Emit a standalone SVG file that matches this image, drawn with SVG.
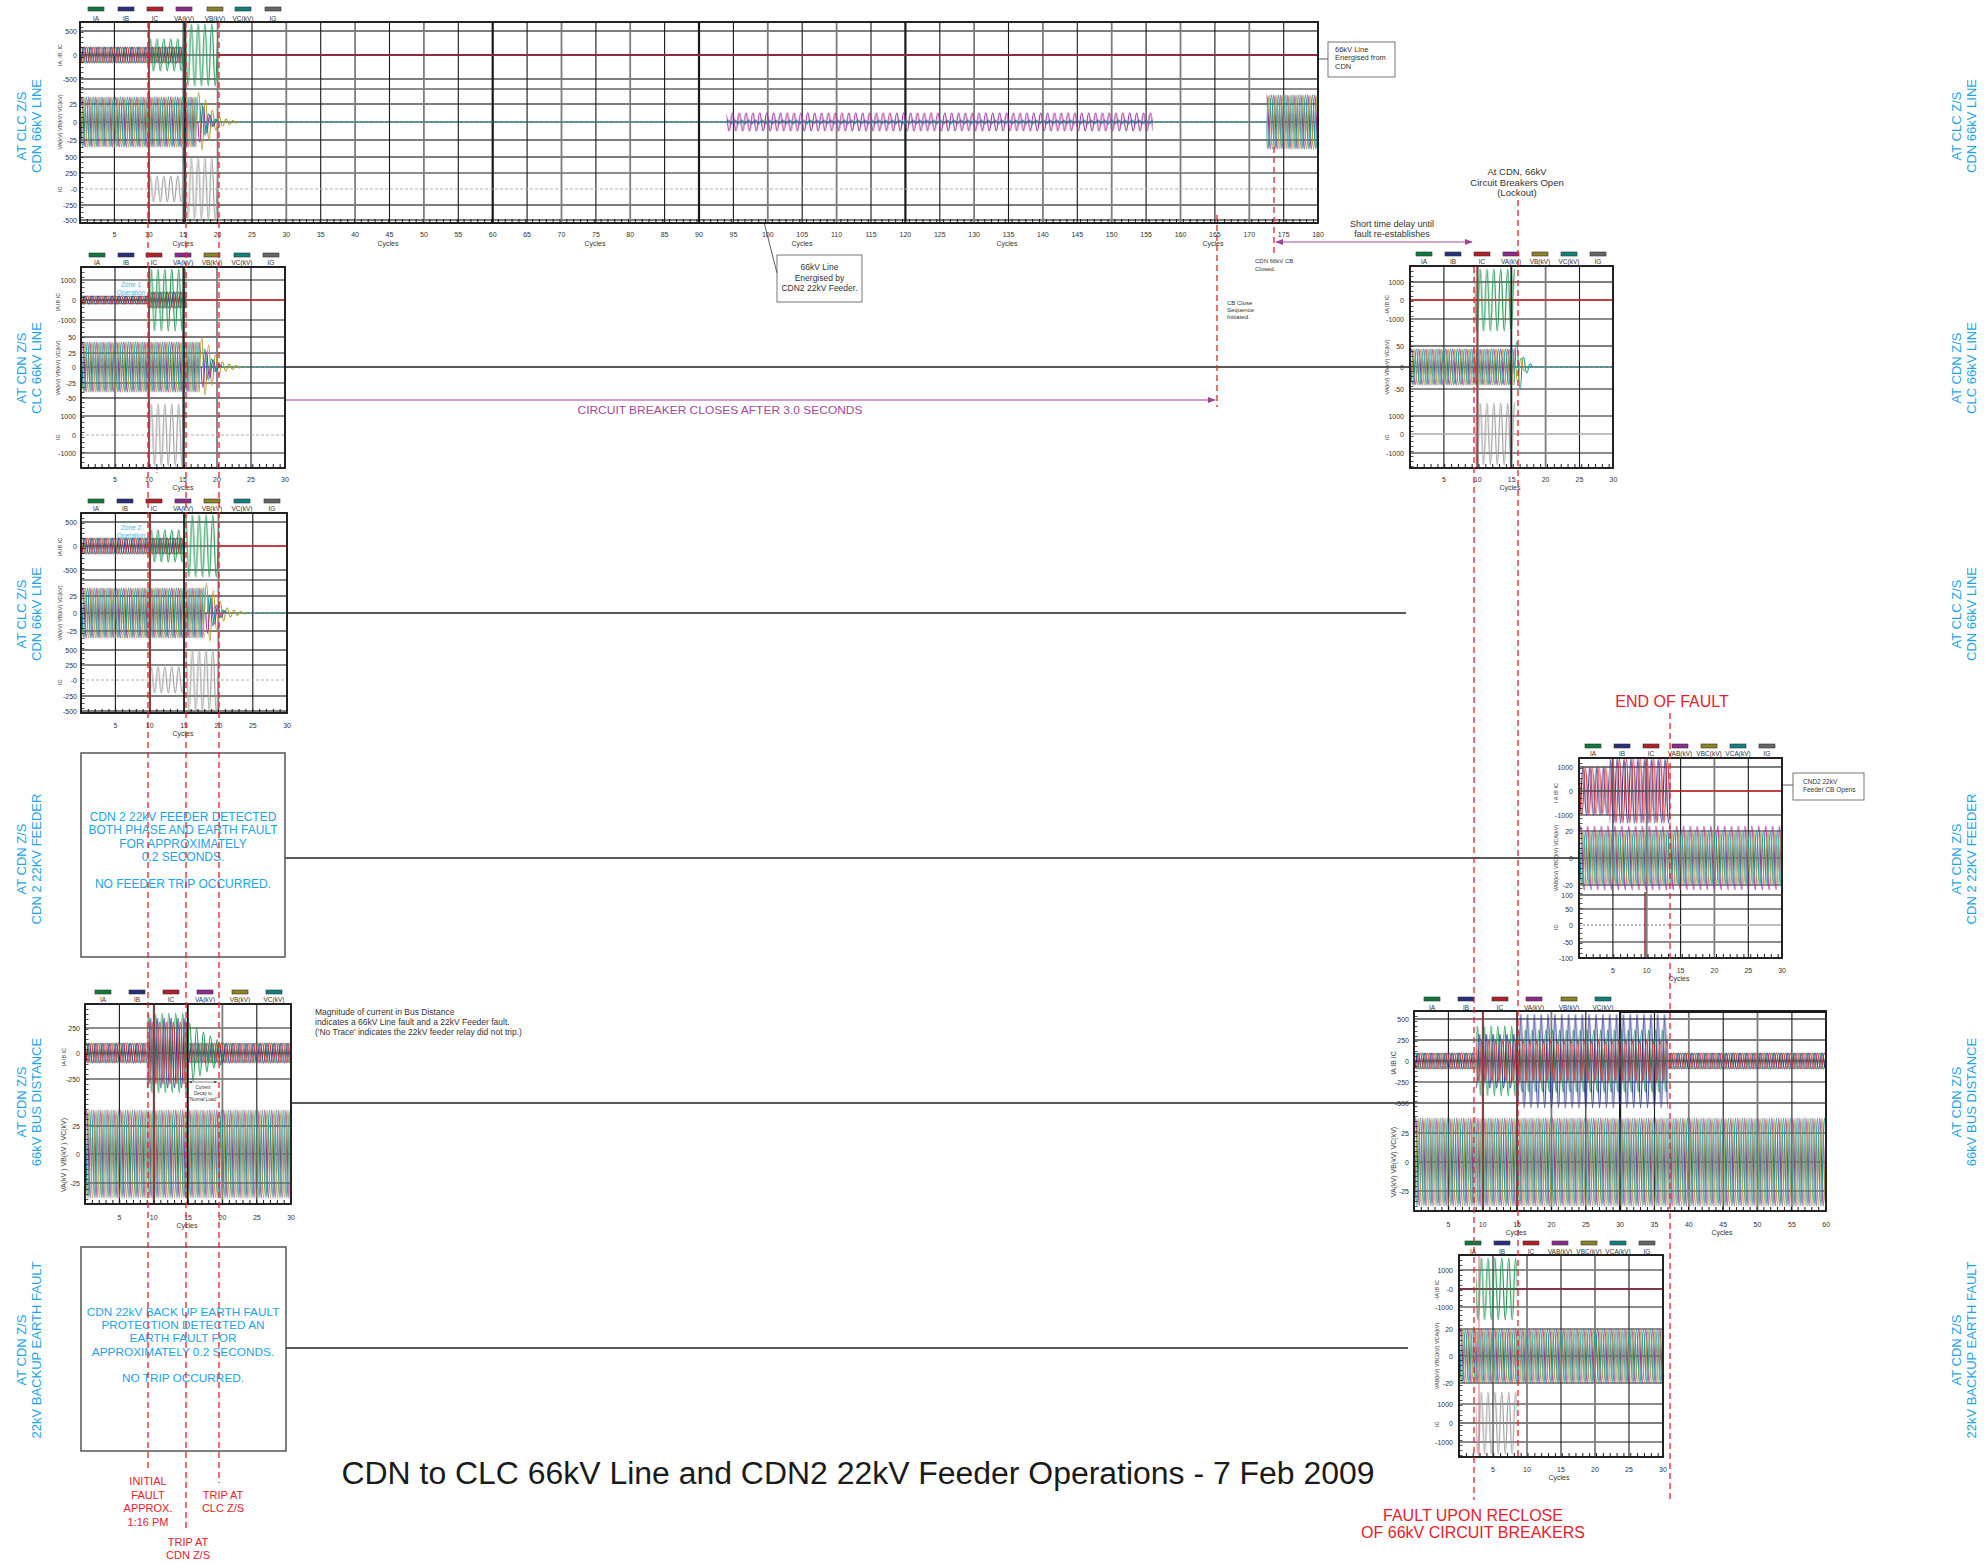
<svg xmlns="http://www.w3.org/2000/svg" width="1987" height="1563" viewBox="0 0 1987 1563">
<style>
text{font-family:"Liberation Sans",Arial,sans-serif}
.fr{fill:#fff;stroke:#1a1a1a;stroke-width:1.6}
.fo{fill:none;stroke:#1a1a1a;stroke-width:1.6}
.hk{stroke:#1a1a1a;stroke-width:1.1;fill:none}
.hg{stroke:#7d7d7d;stroke-width:1.8;fill:none}
.vk{stroke:#1a1a1a;stroke-width:1.1;fill:none}
.vg{stroke:#7d7d7d;stroke-width:1.8;fill:none}
.vb{stroke:#1a1a1a;stroke-width:2.2;fill:none}
.z0{stroke:#b0b0b0;stroke-width:1;stroke-dasharray:3 2;fill:none}
.zg{stroke:#aaaaaa;stroke-width:1.4;fill:none}
.zt{stroke:#13999a;stroke-width:1.2;stroke-dasharray:3 2;fill:none}
.tk{stroke:#1a1a1a;stroke-width:4;stroke-dasharray:1 5.85;fill:none}
.tl{stroke:#1a1a1a;stroke-width:3;stroke-dasharray:.8 4.2;fill:none}
.yl{font-size:7px;fill:#333;text-anchor:end}
.xl{font-size:7px;fill:#333;text-anchor:middle}
.lg{font-size:6.5px;fill:#333;text-anchor:middle}
.yt{font-size:5.5px;fill:#444;text-anchor:middle}
.yt2{font-size:7px;fill:#444;text-anchor:middle}
.sw{stroke:#333;stroke-width:.6}
.ev{stroke:#e8202a;stroke-width:1.3;stroke-dasharray:6 4;fill:none}
.cn{stroke:#222;stroke-width:1.5;fill:none}
.side{font-size:13px;fill:#1ca3e8;text-anchor:middle}
.note{font-size:12px;fill:#1ca3e8;text-anchor:middle}
.red{fill:#e8202a;text-anchor:middle}
.ann{fill:#333}
.zone{font-size:6.5px;fill:#48b4f0;text-anchor:middle}
.w{fill:none;stroke-width:1.15}
.cI{fill:#0f7a3c}.cB{fill:#27307e}.cR{fill:#b4202a}.cM{fill:#8e2a8c}.cO{fill:#8e8226}.cT{fill:#12807f}.cG{fill:#666}
</style>
<defs>
<path id="a2" class="w" d="M-6.85 0c1.233-2.66 2.192-2.66 3.425 0s2.192 2.66 3.425 0s2.192-2.66 3.425 0s2.192 2.66 3.425 0s2.192-2.66 3.425 0s2.192 2.66 3.425 0"/>
<path id="a4" class="w" d="M-6.85 0c1.233-5.32 2.192-5.32 3.425 0s2.192 5.32 3.425 0s2.192-5.32 3.425 0s2.192 5.32 3.425 0s2.192-5.32 3.425 0s2.192 5.32 3.425 0"/>
<path id="a8" class="w" d="M-6.85 0c1.233-10.64 2.192-10.64 3.425 0s2.192 10.64 3.425 0s2.192-10.64 3.425 0s2.192 10.64 3.425 0s2.192-10.64 3.425 0s2.192 10.64 3.425 0"/>
<path id="a9" class="w" d="M-6.85 0c1.233-11.97 2.192-11.97 3.425 0s2.192 11.97 3.425 0s2.192-11.97 3.425 0s2.192 11.97 3.425 0s2.192-11.97 3.425 0s2.192 11.97 3.425 0"/>
<path id="a10" class="w" d="M-6.85 0c1.233-13.3 2.192-13.3 3.425 0s2.192 13.3 3.425 0s2.192-13.3 3.425 0s2.192 13.3 3.425 0s2.192-13.3 3.425 0s2.192 13.3 3.425 0"/>
<path id="a13" class="w" d="M-6.85 0c1.233-17.29 2.192-17.29 3.425 0s2.192 17.29 3.425 0s2.192-17.29 3.425 0s2.192 17.29 3.425 0s2.192-17.29 3.425 0s2.192 17.29 3.425 0"/>
<path id="a16" class="w" d="M-6.85 0c1.233-21.28 2.192-21.28 3.425 0s2.192 21.28 3.425 0s2.192-21.28 3.425 0s2.192 21.28 3.425 0s2.192-21.28 3.425 0s2.192 21.28 3.425 0"/>
<path id="a18" class="w" d="M-6.85 0c1.233-23.94 2.192-23.94 3.425 0s2.192 23.94 3.425 0s2.192-23.94 3.425 0s2.192 23.94 3.425 0s2.192-23.94 3.425 0s2.192 23.94 3.425 0"/>
<path id="a20" class="w" d="M-6.85 0c1.233-26.6 2.192-26.6 3.425 0s2.192 26.6 3.425 0s2.192-26.6 3.425 0s2.192 26.6 3.425 0s2.192-26.6 3.425 0s2.192 26.6 3.425 0"/>
<path id="a24" class="w" d="M-6.85 0c1.233-31.92 2.192-31.92 3.425 0s2.192 31.92 3.425 0s2.192-31.92 3.425 0s2.192 31.92 3.425 0s2.192-31.92 3.425 0s2.192 31.92 3.425 0"/>
<path id="a25" class="w" d="M-6.85 0c1.233-33.25 2.192-33.25 3.425 0s2.192 33.25 3.425 0s2.192-33.25 3.425 0s2.192 33.25 3.425 0s2.192-33.25 3.425 0s2.192 33.25 3.425 0"/>
<path id="a27" class="w" d="M-6.85 0c1.233-35.91 2.192-35.91 3.425 0s2.192 35.91 3.425 0s2.192-35.91 3.425 0s2.192 35.91 3.425 0s2.192-35.91 3.425 0s2.192 35.91 3.425 0"/>
<path id="a31" class="w" d="M-6.85 0c1.233-41.23 2.192-41.23 3.425 0s2.192 41.23 3.425 0s2.192-41.23 3.425 0s2.192 41.23 3.425 0s2.192-41.23 3.425 0s2.192 41.23 3.425 0"/>
<path id="a32" class="w" d="M-6.85 0c1.233-42.56 2.192-42.56 3.425 0s2.192 42.56 3.425 0s2.192-42.56 3.425 0s2.192 42.56 3.425 0s2.192-42.56 3.425 0s2.192 42.56 3.425 0"/>
<path id="a35" class="w" d="M-6.85 0c1.233-46.55 2.192-46.55 3.425 0s2.192 46.55 3.425 0s2.192-46.55 3.425 0s2.192 46.55 3.425 0s2.192-46.55 3.425 0s2.192 46.55 3.425 0"/>
<path id="a40" class="w" d="M-6.85 0c1.233-53.2 2.192-53.2 3.425 0s2.192 53.2 3.425 0s2.192-53.2 3.425 0s2.192 53.2 3.425 0s2.192-53.2 3.425 0s2.192 53.2 3.425 0"/>
<path id="a44" class="w" d="M-6.85 0c1.233-58.52 2.192-58.52 3.425 0s2.192 58.52 3.425 0s2.192-58.52 3.425 0s2.192 58.52 3.425 0s2.192-58.52 3.425 0s2.192 58.52 3.425 0"/>
<path id="a47" class="w" d="M-6.85 0c1.233-62.51 2.192-62.51 3.425 0s2.192 62.51 3.425 0s2.192-62.51 3.425 0s2.192 62.51 3.425 0s2.192-62.51 3.425 0s2.192 62.51 3.425 0"/>

<pattern id="v18" patternUnits="userSpaceOnUse" y="-20" width="6.85" height="40"><use href="#a18" y="20" stroke="#a02c9c"/><use href="#a18" x="2.283" y="20" stroke="#ac9a2c"/><use href="#a18" x="4.567" y="20" stroke="#13999a"/></pattern>
<pattern id="v25" patternUnits="userSpaceOnUse" y="-27" width="6.85" height="54"><use href="#a25" y="27" stroke="#a02c9c"/><use href="#a25" x="2.283" y="27" stroke="#ac9a2c"/><use href="#a25" x="4.567" y="27" stroke="#13999a"/></pattern>
<pattern id="v27" patternUnits="userSpaceOnUse" y="-29" width="6.85" height="58"><use href="#a27" y="29" stroke="#a02c9c"/><use href="#a27" x="2.283" y="29" stroke="#ac9a2c"/><use href="#a27" x="4.567" y="29" stroke="#13999a"/></pattern>
<pattern id="v32" patternUnits="userSpaceOnUse" y="-34" width="6.85" height="68"><use href="#a32" y="34" stroke="#a02c9c"/><use href="#a27" x="2.283" y="34" stroke="#ac9a2c"/><use href="#a27" x="4.567" y="34" stroke="#13999a"/></pattern>
<pattern id="v44" patternUnits="userSpaceOnUse" y="-46" width="6.85" height="92"><use href="#a44" y="46" stroke="#a02c9c"/><use href="#a44" x="2.283" y="46" stroke="#ac9a2c"/><use href="#a44" x="4.567" y="46" stroke="#13999a"/></pattern>
<pattern id="i4" patternUnits="userSpaceOnUse" y="-6" width="6.85" height="12"><use href="#a4" y="6" stroke="#1b9650"/><use href="#a4" x="2.283" y="6" stroke="#2c3596"/><use href="#a4" x="4.567" y="6" stroke="#d42a2a"/></pattern>
<pattern id="i8" patternUnits="userSpaceOnUse" y="-10" width="6.85" height="20"><use href="#a8" y="10" stroke="#1b9650"/><use href="#a8" x="2.283" y="10" stroke="#2c3596"/><use href="#a8" x="4.567" y="10" stroke="#d42a2a"/></pattern>
<pattern id="i10" patternUnits="userSpaceOnUse" y="-12" width="6.85" height="24"><use href="#a10" y="12" stroke="#1b9650"/><use href="#a10" x="2.283" y="12" stroke="#2c3596"/><use href="#a10" x="4.567" y="12" stroke="#d42a2a"/></pattern>
<pattern id="g16" patternUnits="userSpaceOnUse" y="-18" width="6.85" height="36"><use href="#a16" y="18" stroke="#1b9650"/></pattern>
<pattern id="g31" patternUnits="userSpaceOnUse" y="-33" width="6.85" height="66"><use href="#a31" y="33" stroke="#1b9650"/></pattern>
<pattern id="k13" patternUnits="userSpaceOnUse" y="-15" width="6.85" height="30"><use href="#a13" y="15" stroke="#9c9c9c"/></pattern>
<pattern id="k31" patternUnits="userSpaceOnUse" y="-33" width="6.85" height="66"><use href="#a31" y="33" stroke="#9c9c9c"/></pattern>
<pattern id="m9" patternUnits="userSpaceOnUse" y="-11" width="6.85" height="22"><use href="#a2" x="2.283" y="11" stroke="#13999a"/><use href="#a9" y="11" stroke="#a02c9c"/></pattern>
<pattern id="e40" patternUnits="userSpaceOnUse" y="-42" width="6.85" height="84"><use href="#a40" y="42" stroke="#1b9650"/><use href="#a35" x="2.283" y="42" stroke="#2c3596"/><use href="#a31" x="4.567" y="42" stroke="#d42a2a"/></pattern>
<pattern id="i1" patternUnits="userSpaceOnUse" y="-37" width="6.85" height="74"><use href="#a35" y="37" stroke="#1b9650"/><use href="#a27" x="2.283" y="37" stroke="#2c3596"/><use href="#a20" x="4.567" y="37" stroke="#d42a2a"/></pattern>
<pattern id="i2" patternUnits="userSpaceOnUse" y="-49" width="6.85" height="98"><use href="#a31" y="49" stroke="#1b9650"/><use href="#a47" x="2.283" y="49" stroke="#2c3596"/><use href="#a20" x="4.567" y="49" stroke="#d42a2a"/></pattern>
<pattern id="h24" patternUnits="userSpaceOnUse" y="-26" width="6.85" height="52"><use href="#a24" x="2.283" y="26" stroke="#2c3596"/><use href="#a24" x="4.567" y="26" stroke="#d42a2a"/></pattern>
<pattern id="h32" patternUnits="userSpaceOnUse" y="-34" width="6.85" height="68"><use href="#a32" x="2.283" y="34" stroke="#2c3596"/><use href="#a32" x="4.567" y="34" stroke="#d42a2a"/></pattern>

<g id="dec" fill="none" stroke-width="1.1">
<path stroke="#ac9a2c" d="M0 0q1.72-60 3.44 0q1.72 56 3.44 0q1.72-44 3.44 0q1.72 36 3.44 0q1.72-24 3.44 0q1.72 16 3.44 0q1.72-10 3.44 0q1.72 8 3.44 0q1.72-6 3.44 0q1.72 5 3.44 0q1.72-3 3.44 0q1.72 2 3.44 0"/>
<path stroke="#a02c9c" d="M1.1 0q1.72 40 3.44 0q1.72-30 3.44 0q1.72 22 3.44 0q1.72-14 3.44 0q1.72 8 3.44 0q1.72-4 3.44 0"/>
<path stroke="#13999a" d="M3.1 0q1.72-36 3.44 0q1.72 26 3.44 0q1.72-16 3.44 0q1.72 10 3.44 0q1.72-6 3.44 0"/>
</g>

<marker id="mkM" viewBox="0 0 10 10" refX="9" refY="5" markerWidth="8" markerHeight="8" markerUnits="userSpaceOnUse" orient="auto-start-reverse"><path d="M0 1L10 5L0 9z" fill="#a0449a"/></marker>
<marker id="mkK" viewBox="0 0 10 10" refX="9" refY="5" markerWidth="6" markerHeight="6" markerUnits="userSpaceOnUse" orient="auto-start-reverse"><path d="M0 1L10 5L0 9z" fill="#333"/></marker>
<marker id="mkS" viewBox="0 0 10 10" refX="9" refY="5" markerWidth="3" markerHeight="3" markerUnits="userSpaceOnUse" orient="auto-start-reverse"><path d="M0 1L10 5L0 9z" fill="#333"/></marker>
</defs>

<rect width="1987" height="1563" fill="#fff"/>

<g id="side-labels">
<text class="side" transform="translate(26 126) rotate(-90)">AT CLC Z/S</text>
<text class="side" transform="translate(41 126) rotate(-90)">CDN 66kV LINE</text>
<text class="side" transform="translate(26 368) rotate(-90)">AT CDN Z/S</text>
<text class="side" transform="translate(41 368) rotate(-90)">CLC 66kV LINE</text>
<text class="side" transform="translate(26 614) rotate(-90)">AT CLC Z/S</text>
<text class="side" transform="translate(41 614) rotate(-90)">CDN 66kV LINE</text>
<text class="side" transform="translate(26 859) rotate(-90)">AT CDN Z/S</text>
<text class="side" transform="translate(41 859) rotate(-90)">CDN 2 22KV FEEDER</text>
<text class="side" transform="translate(26 1102) rotate(-90)">AT CDN Z/S</text>
<text class="side" transform="translate(41 1102) rotate(-90)">66kV BUS DISTANCE</text>
<text class="side" transform="translate(26 1350) rotate(-90)">AT CDN Z/S</text>
<text class="side" transform="translate(41 1350) rotate(-90)">22kV BACKUP EARTH FAULT</text>
<text class="side" transform="translate(1961 126) rotate(-90)">AT CLC Z/S</text>
<text class="side" transform="translate(1976 126) rotate(-90)">CDN 66kV LINE</text>
<text class="side" transform="translate(1961 368) rotate(-90)">AT CDN Z/S</text>
<text class="side" transform="translate(1976 368) rotate(-90)">CLC 66kV LINE</text>
<text class="side" transform="translate(1961 614) rotate(-90)">AT CLC Z/S</text>
<text class="side" transform="translate(1976 614) rotate(-90)">CDN 66kV LINE</text>
<text class="side" transform="translate(1961 859) rotate(-90)">AT CDN Z/S</text>
<text class="side" transform="translate(1976 859) rotate(-90)">CDN 2 22KV FEEDER</text>
<text class="side" transform="translate(1961 1102) rotate(-90)">AT CDN Z/S</text>
<text class="side" transform="translate(1976 1102) rotate(-90)">66kV BUS DISTANCE</text>
<text class="side" transform="translate(1961 1350) rotate(-90)">AT CDN Z/S</text>
<text class="side" transform="translate(1976 1350) rotate(-90)">22kV BACKUP EARTH FAULT</text>
</g>

<g id="connectors">
<path class="cn" d="M285 367H1410"/>
<path class="cn" d="M287 613H1406"/>
<path class="cn" d="M285 858H1579"/>
<path class="cn" d="M291 1103H1415"/>
<path class="cn" d="M286 1348H1408"/>
<path d="M157 400H1215" stroke="#d99ad0" stroke-width="2.2" fill="none" marker-end="url(#mkM)"/>
<path d="M157 400V473" stroke="#a0449a" stroke-width="1" stroke-dasharray="2 2" fill="none"/>
<path d="M1276 242H1472" stroke="#b04aa0" stroke-width="1.2" fill="none" marker-start="url(#mkM)" marker-end="url(#mkM)"/>
<path d="M1328 59H1292L1273 92" stroke="#333" stroke-width=".8" fill="none"/>
<path d="M777 273L742 136" stroke="#333" stroke-width=".8" fill="none" marker-end="url(#mkK)"/>
<path d="M1793 785H1673" stroke="#333" stroke-width=".8" fill="none" marker-end="url(#mkK)"/>
</g>

<g id="plot-clc-cdn-66kv-line-top">
<rect class="fr" x="80" y="22" width="1238" height="201"/>
<path class="hg" d="M80 31H1318M80 79H1318M80 104H1318M80 140H1318M80 157H1318M80 205H1318M80 220H1318"/>
<path class="hk" d="M80 55H1318M80 89H1318M80 122H1318M80 173H1318"/>
<path class="vk" d="M114.4 22V223M183.2 22V223M252 22V223M320.7 22V223M389.5 22V223M458.3 22V223M527.1 22V223M595.9 22V223M664.6 22V223M733.4 22V223M802.2 22V223M871 22V223M939.8 22V223M1008.5 22V223M1077.3 22V223M1146.1 22V223M1214.9 22V223M1283.7 22V223"/>
<path class="vg" d="M148.8 22V223M217.6 22V223M286.3 22V223M355.1 22V223M423.9 22V223M561.5 22V223M630.2 22V223M767.8 22V223M836.6 22V223M974.1 22V223M1042.9 22V223M1111.7 22V223M1180.5 22V223M1249.3 22V223"/>
<path class="vb" d="M492.7 22V223M699 22V223M905.4 22V223"/>
<g transform="translate(80 55)">
<rect x="0" y="-10" width="103.2" height="20" fill="url(#i8)"/>
<rect x="68.8" y="-18" width="34.4" height="36" fill="url(#g16)"/>
<rect x="103.2" y="-33" width="34.4" height="66" fill="url(#g31)"/>
<path d="M137.6 0H1238" stroke="#8c2c3c" stroke-width="1.8"/>
</g>
<g transform="translate(80 122)">
<path class="zt" d="M0 0H1238"/>
<rect x="0" y="-27" width="116.9" height="54" fill="url(#v25)"/>
<use href="#dec" x="116.9"/>
<rect x="646.5" y="-11" width="426.4" height="22" fill="url(#m9)"/>
<rect x="1186.5" y="-29" width="51.5" height="58" fill="url(#v27)"/>
</g>
<g transform="translate(80 189)">
<path class="z0" d="M0 0H1238"/>
<rect x="68.8" y="-15" width="34.4" height="30" fill="url(#k13)"/>
<rect x="103.2" y="-33" width="34.4" height="66" fill="url(#k31)"/>
</g>
<path d="M149 22V223" stroke="#8a4040" stroke-width="1.6"/>
<path d="M185 22V223" stroke="#111" stroke-width="1.6"/>
<path class="tk" d="M80 221H1318"/>
<path class="tl" d="M82 22V223"/>
<rect class="fo" x="80" y="22" width="1238" height="201"/>
<g class="yl">
<text x="77" y="33.5">500</text><text x="77" y="57.5">0</text><text x="77" y="81.5">-500</text>
<text x="77" y="106.5">25</text><text x="77" y="124.5">0</text><text x="77" y="142.5">-25</text>
<text x="77" y="159.5">500</text><text x="77" y="175.5">250</text><text x="77" y="191.5">-0</text><text x="77" y="207.5">-250</text><text x="77" y="222.5">-500</text>
</g>
<g class="xl">
<text x="114.4" y="236.5">5</text><text x="148.8" y="236.5">10</text><text x="183.2" y="236.5">15</text><text x="217.6" y="236.5">20</text><text x="252" y="236.5">25</text><text x="286.3" y="236.5">30</text>
<text x="320.7" y="236.5">35</text><text x="355.1" y="236.5">40</text><text x="389.5" y="236.5">45</text><text x="423.9" y="236.5">50</text><text x="458.3" y="236.5">55</text><text x="492.7" y="236.5">60</text>
<text x="527.1" y="236.5">65</text><text x="561.5" y="236.5">70</text><text x="595.9" y="236.5">75</text><text x="630.2" y="236.5">80</text><text x="664.6" y="236.5">85</text><text x="699" y="236.5">90</text>
<text x="733.4" y="236.5">95</text><text x="767.8" y="236.5">100</text><text x="802.2" y="236.5">105</text><text x="836.6" y="236.5">110</text><text x="871" y="236.5">115</text><text x="905.4" y="236.5">120</text>
<text x="939.8" y="236.5">125</text><text x="974.1" y="236.5">130</text><text x="1008.5" y="236.5">135</text><text x="1042.9" y="236.5">140</text><text x="1077.3" y="236.5">145</text><text x="1111.7" y="236.5">150</text>
<text x="1146.1" y="236.5">155</text><text x="1180.5" y="236.5">160</text><text x="1214.9" y="236.5">165</text><text x="1249.3" y="236.5">170</text><text x="1283.7" y="236.5">175</text><text x="1318" y="236.5">180</text>
<text x="183" y="245.5">Cycles</text><text x="388" y="245.5">Cycles</text><text x="595" y="245.5">Cycles</text><text x="802" y="245.5">Cycles</text><text x="1007" y="245.5">Cycles</text><text x="1213" y="245.5">Cycles</text>
</g>
<text class="yt" transform="translate(62 55) rotate(-90)">IA, IB, IC</text>
<text class="yt" transform="translate(62 122) rotate(-90)">VA(kV) VB(kV) VC(kV)</text>
<text class="yt" transform="translate(62 189) rotate(-90)">IG</text>
<g>
<rect class="sw cI" x="88" y="7" width="16" height="4"/><rect class="sw cB" x="118" y="7" width="16" height="4"/><rect class="sw cR" x="147" y="7" width="16" height="4"/><rect class="sw cM" x="176" y="7" width="16" height="4"/><rect class="sw cO" x="207" y="7" width="16" height="4"/><rect class="sw cT" x="235" y="7" width="16" height="4"/><rect class="sw cG" x="265" y="7" width="16" height="4"/>
<g class="lg"><text x="96" y="20.5">IA</text><text x="126" y="20.5">IB</text><text x="155" y="20.5">IC</text><text x="184" y="20.5">VA(kV)</text><text x="215" y="20.5">VB(kV)</text><text x="243" y="20.5">VC(kV)</text><text x="273" y="20.5">IG</text></g>
</g>
</g>

<g id="plot-cdn-clc-66kv-line">
<rect class="fr" x="81" y="267" width="204" height="201"/>
<path class="hk" d="M81 280H285M81 300H285M81 320H285M81 353H285M81 367H285M81 383H285M81 416H285M81 453H285"/>
<path class="hg" d="M81 337H285M81 398H285"/>
<path class="vk" d="M115 267V468M183 267V468M251 267V468"/>
<path class="vg" d="M149 267V468M217 267V468"/>
<g transform="translate(81 300)">
<rect x="0" y="-6" width="68" height="12" fill="url(#i4)"/>
<rect x="68" y="-10" width="37.4" height="20" fill="url(#i8)"/>
<rect x="68" y="-33" width="37.4" height="66" fill="url(#g31)"/>
<path d="M105.4 0H204" stroke="#d42a2a" stroke-width="1.6"/>
</g>
<g transform="translate(81 367)">
<path class="zt" d="M0 0H204"/>
<rect x="0" y="-27" width="119" height="54" fill="url(#v25)"/>
<use href="#dec" x="119"/>
</g>
<g transform="translate(81 435)">
<path class="z0" d="M0 0H204"/>
<rect x="68" y="-33" width="37.4" height="66" fill="url(#k31)"/>
</g>
<path d="M149 267V468" stroke="#8a4040" stroke-width="1.4"/>
<path d="M184 267V468" stroke="#111" stroke-width="1.4"/>
<path class="tk" d="M81 466H285"/>
<path class="tl" d="M83 267V468"/>
<rect class="fo" x="81" y="267" width="204" height="201"/>
<g class="yl">
<text x="76" y="282.5">1000</text><text x="76" y="302.5">0</text><text x="76" y="322.5">-1000</text>
<text x="76" y="339.5">50</text><text x="76" y="355.5">25</text><text x="76" y="369.5">0</text><text x="76" y="385.5">-25</text><text x="76" y="400.5">-50</text>
<text x="76" y="418.5">1000</text><text x="76" y="437.5">0</text><text x="76" y="455.5">-1000</text>
</g>
<g class="xl">
<text x="115" y="481.5">5</text><text x="149" y="481.5">10</text><text x="183" y="481.5">15</text><text x="217" y="481.5">20</text><text x="251" y="481.5">25</text><text x="285" y="481.5">30</text>
<text x="183" y="489.5">Cycles</text>
</g>
<text class="yt" transform="translate(60 302) rotate(-90)">IA IB IC</text>
<text class="yt" transform="translate(60 368) rotate(-90)">VA(kV) VB(kV) VC(kV)</text>
<text class="yt" transform="translate(60 437) rotate(-90)">IG</text>
<rect class="sw cI" x="89" y="253" width="16" height="4"/><rect class="sw cB" x="118" y="253" width="16" height="4"/><rect class="sw cR" x="146" y="253" width="16" height="4"/><rect class="sw cM" x="175" y="253" width="16" height="4"/><rect class="sw cO" x="204" y="253" width="16" height="4"/><rect class="sw cT" x="234" y="253" width="16" height="4"/><rect class="sw cG" x="263" y="253" width="16" height="4"/>
<g class="lg"><text x="97" y="264.5">IA</text><text x="126" y="264.5">IB</text><text x="154" y="264.5">IC</text><text x="183" y="264.5">VA(kV)</text><text x="212" y="264.5">VB(kV)</text><text x="242" y="264.5">VC(kV)</text><text x="271" y="264.5">IG</text></g>
<text class="zone" x="131" y="286.5">Zone 1</text><text class="zone" x="131" y="294.5">Operation</text>
</g>

<g id="plot-clc-cdn-66kv-line-2">
<rect class="fr" x="81" y="513" width="206" height="200"/>
<path class="hg" d="M81 522H287M81 570H287M81 596H287M81 631H287M81 650H287M81 696H287M81 711H287"/>
<path class="hk" d="M81 546H287M81 580H287M81 613H287M81 665H287"/>
<path class="vk" d="M115.4 513V713M184.1 513V713M252.8 513V713"/>
<path class="vg" d="M149.7 513V713M218.4 513V713"/>
<g transform="translate(81 546)">
<rect x="0" y="-10" width="103.05" height="20" fill="url(#i8)"/>
<rect x="68.7" y="-18" width="34.35" height="36" fill="url(#g16)"/>
<rect x="103.05" y="-33" width="34.35" height="66" fill="url(#g31)"/>
<path d="M137.4 0H206" stroke="#d42a2a" stroke-width="1.6"/>
</g>
<g transform="translate(81 613)">
<path class="zt" d="M0 0H206"/>
<rect x="0" y="-27" width="123.7" height="54" fill="url(#v25)"/>
<use href="#dec" x="123.7"/>
</g>
<g transform="translate(81 680)">
<path class="z0" d="M0 0H206"/>
<rect x="68.7" y="-15" width="34.35" height="30" fill="url(#k13)"/>
<rect x="103.05" y="-33" width="34.35" height="66" fill="url(#k31)"/>
</g>
<path d="M150 513V713" stroke="#8a4040" stroke-width="2"/>
<path d="M184 513V713" stroke="#111" stroke-width="1.4"/>
<path class="tk" d="M81 711H287"/>
<path class="tl" d="M83 513V713"/>
<rect class="fo" x="81" y="513" width="206" height="200"/>
<g class="yl">
<text x="77" y="524.5">500</text><text x="77" y="548.5">0</text><text x="77" y="572.5">-500</text>
<text x="77" y="598.5">25</text><text x="77" y="615.5">0</text><text x="77" y="633.5">-25</text>
<text x="77" y="652.5">500</text><text x="77" y="667.5">250</text><text x="77" y="682.5">-0</text><text x="77" y="698.5">-250</text><text x="77" y="713.5">-500</text>
</g>
<g class="xl">
<text x="115.4" y="727.5">5</text><text x="149.7" y="727.5">10</text><text x="184.1" y="727.5">15</text><text x="218.4" y="727.5">20</text><text x="252.8" y="727.5">25</text><text x="287.1" y="727.5">30</text>
<text x="183" y="735.5">Cycles</text>
</g>
<text class="yt" transform="translate(62 547) rotate(-90)">IA IB IC</text>
<text class="yt" transform="translate(62 613) rotate(-90)">VA(kV) VB(kV) VC(kV)</text>
<text class="yt" transform="translate(62 682) rotate(-90)">IG</text>
<rect class="sw cI" x="88" y="499" width="16" height="4"/><rect class="sw cB" x="117" y="499" width="16" height="4"/><rect class="sw cR" x="146" y="499" width="16" height="4"/><rect class="sw cM" x="175" y="499" width="16" height="4"/><rect class="sw cO" x="204" y="499" width="16" height="4"/><rect class="sw cT" x="234" y="499" width="16" height="4"/><rect class="sw cG" x="264" y="499" width="16" height="4"/>
<g class="lg"><text x="96" y="510.5">IA</text><text x="125" y="510.5">IB</text><text x="154" y="510.5">IC</text><text x="183" y="510.5">VA(kV)</text><text x="212" y="510.5">VB(kV)</text><text x="242" y="510.5">VC(kV)</text><text x="272" y="510.5">IG</text></g>
<text class="zone" x="131" y="529.5">Zone 2</text><text class="zone" x="131" y="537.5">Operation</text>
</g>

<g id="note-cdn2-22kv-feeder">
<rect x="81" y="753" width="204" height="204" fill="#fff" stroke="#555" stroke-width="1.5"/>
<g class="note">
<text x="183" y="821">CDN 2 22kV FEEDER DETECTED</text>
<text x="183" y="834">BOTH PHASE AND EARTH FAULT</text>
<text x="183" y="848">FOR APPROXIMATELY</text>
<text x="183" y="861">0.2 SECONDS.</text>
<text x="183" y="888">NO FEEDER TRIP OCCURRED.</text>
</g>
</g>

<g id="plot-cdn-66kv-bus-distance">
<rect class="fr" x="85" y="1004" width="206" height="200"/>
<path class="hk" d="M85 1028H291M85 1053H291M85 1079H291M85 1154H291"/>
<path class="hg" d="M85 1126H291M85 1183H291"/>
<path class="vk" d="M119.4 1004V1204M188.1 1004V1204M256.8 1004V1204"/>
<path class="vg" d="M153.7 1004V1204M222.4 1004V1204"/>
<g transform="translate(85 1154)">
<rect x="0" y="-46" width="206" height="92" fill="url(#v44)"/>
</g>
<g transform="translate(85 1053)">
<rect x="0" y="-12" width="61.8" height="24" fill="url(#i10)"/>
<rect x="61.8" y="-42" width="41.2" height="84" fill="url(#e40)"/>
<rect x="103" y="-12" width="103" height="24" fill="url(#i10)"/>
<path d="M103 0q1.72-60 3.44 0q1.72 56 3.44 0q1.72-50 3.44 0q1.72 46 3.44 0q1.72-42 3.44 0q1.72 38 3.44 0q1.72-34 3.44 0q1.72 30 3.44 0q1.72-27 3.44 0q1.72 24 3.44 0" fill="none" stroke="#1b9650" stroke-width="1.1"/>
</g>
<path d="M154 1004V1204" stroke="#8a4040" stroke-width="2"/>
<path d="M187.5 1004V1204" stroke="#111" stroke-width="1.4"/>
<path class="tk" d="M85 1202H291"/>
<path class="tl" d="M87 1004V1204"/>
<rect class="fo" x="85" y="1004" width="206" height="200"/>
<g class="yl">
<text x="80" y="1030.5">250</text><text x="80" y="1055.5">0</text><text x="80" y="1081.5">-250</text>
<text x="80" y="1128.5">25</text><text x="80" y="1156.5">0</text><text x="80" y="1185.5">-25</text>
</g>
<g class="xl">
<text x="119.4" y="1219.5">5</text><text x="153.7" y="1219.5">10</text><text x="188.1" y="1219.5">15</text><text x="222.4" y="1219.5">20</text><text x="256.8" y="1219.5">25</text><text x="291.1" y="1219.5">30</text>
<text x="187" y="1227.5">Cycles</text>
</g>
<text class="yt" transform="translate(66 1057) rotate(-90)">IA IB IC</text>
<text class="yt2" transform="translate(66 1155) rotate(-90)">VA(kV ) VB(kV ) VC(kV)</text>
<rect class="sw cI" x="95" y="990" width="16" height="4"/><rect class="sw cB" x="129" y="990" width="16" height="4"/><rect class="sw cR" x="163" y="990" width="16" height="4"/><rect class="sw cM" x="197" y="990" width="16" height="4"/><rect class="sw cO" x="232" y="990" width="16" height="4"/><rect class="sw cT" x="266" y="990" width="16" height="4"/>
<g class="lg"><text x="103" y="1001.5">IA</text><text x="137" y="1001.5">IB</text><text x="171" y="1001.5">IC</text><text x="205" y="1001.5">VA(kV)</text><text x="240" y="1001.5">VB(kV)</text><text x="274" y="1001.5">VC(kV)</text></g>
<path d="M189 1082H217" stroke="#333" stroke-width=".6" fill="none" marker-start="url(#mkS)" marker-end="url(#mkS)"/>
<g font-size="4.5" fill="#333" text-anchor="middle"><text x="203" y="1089">Current</text><text x="203" y="1095">Decay to</text><text x="203" y="1101">"Normal Load"</text></g>
</g>

<g id="note-bus-distance">
<text class="ann" font-size="8.5" x="315" y="1015">Magnitude of current in Bus Distance</text>
<text class="ann" font-size="8.5" x="315" y="1025">indicates a 66kV Line fault and a 22kV Feeder fault.</text>
<text class="ann" font-size="8.5" x="315" y="1035">('No Trace' indicates the 22kV feeder relay did not trip.)</text>
</g>

<g id="note-cdn-22kv-backup-ef">
<rect x="81" y="1247" width="205" height="204" fill="#fff" stroke="#555" stroke-width="1.5"/>
<g class="note">
<text x="183" y="1315.5" font-size="11.8">CDN 22kV BACK UP EARTH FAULT</text>
<text x="183" y="1329" font-size="11.8">PROTECTION DETECTED AN</text>
<text x="183" y="1342" font-size="11.8">EARTH FAULT FOR</text>
<text x="183" y="1355.5" font-size="11.8">APPROXIMATELY 0.2 SECONDS.</text>
<text x="183" y="1381.5" font-size="11.8">NO TRIP OCCURRED.</text>
</g>
</g>

<g id="plot-cdn-clc-66kv-line-reclose">
<rect class="fr" x="1410" y="266" width="203" height="202"/>
<path class="hg" d="M1410 282H1613M1410 346H1613"/>
<path class="hk" d="M1410 300H1613M1410 319H1613M1410 367H1613M1410 389H1613M1410 416H1613M1410 453H1613"/>
<path class="vk" d="M1443.9 266V468M1511.7 266V468M1579.5 266V468"/>
<path class="vg" d="M1477.8 266V468M1545.6 266V468"/>
<g transform="translate(1410 300)">
<path d="M0 0H203" stroke="#d42a2a" stroke-width="1.6"/>
<rect x="64.4" y="-33" width="40.7" height="66" fill="url(#g31)"/>
</g>
<g transform="translate(1410 367)">
<path class="zt" d="M0 0H203"/>
<rect x="0" y="-20" width="105" height="40" fill="url(#v18)"/>
<path d="M105 0q1.7-50 3.4 0q1.7 44 3.4 0q1.7-20 3.4 0q1.7 12 3.4 0q1.7-6 3.4 0" fill="none" stroke="#13999a" stroke-width="1.1"/>
<path d="M106 0q1.7 30 3.4 0q1.7-18 3.4 0q1.7 8 3.4 0" fill="none" stroke="#ac9a2c" stroke-width="1.1"/>
</g>
<g transform="translate(1410 434)">
<path class="zg" d="M0 0H203"/>
<rect x="64.4" y="-33" width="40.7" height="66" fill="url(#k31)"/>
</g>
<path d="M1477 266V468" stroke="#a02020" stroke-width="1.2"/>
<path d="M1511 266V468" stroke="#111" stroke-width="1.2"/>
<path class="tk" d="M1410 466H1613"/>
<path class="tl" d="M1412 266V468"/>
<rect class="fo" x="1410" y="266" width="203" height="202"/>
<g class="yl">
<text x="1404" y="284.5">1000</text><text x="1404" y="302.5">0</text><text x="1404" y="321.5">-1000</text>
<text x="1404" y="348.5">50</text><text x="1404" y="369.5">0</text><text x="1404" y="391.5">-50</text>
<text x="1404" y="418.5">1000</text><text x="1404" y="436.5">0</text><text x="1404" y="455.5">-1000</text>
</g>
<g class="xl">
<text x="1443.9" y="481.5">5</text><text x="1477.8" y="481.5">10</text><text x="1511.7" y="481.5">15</text><text x="1545.6" y="481.5">20</text><text x="1579.5" y="481.5">25</text><text x="1613.4" y="481.5">30</text>
<text x="1510" y="489.5">Cycles</text>
</g>
<text class="yt" transform="translate(1389 305) rotate(-90)">-IA IB IC</text>
<text class="yt" transform="translate(1389 367) rotate(-90)">VA(kV) VB(kV) VC(kV)</text>
<text class="yt" transform="translate(1389 437) rotate(-90)">IG</text>
<rect class="sw cI" x="1416" y="252" width="16" height="4"/><rect class="sw cB" x="1445" y="252" width="16" height="4"/><rect class="sw cR" x="1474" y="252" width="16" height="4"/><rect class="sw cM" x="1503" y="252" width="16" height="4"/><rect class="sw cO" x="1532" y="252" width="16" height="4"/><rect class="sw cT" x="1561" y="252" width="16" height="4"/><rect class="sw cG" x="1590" y="252" width="16" height="4"/>
<g class="lg"><text x="1424" y="264">IA</text><text x="1453" y="264">IB</text><text x="1482" y="264">IC</text><text x="1511" y="264">VA(kV)</text><text x="1540" y="264">VB(kV)</text><text x="1569" y="264">VC(kV)</text><text x="1598" y="264">IG</text></g>
</g>

<g id="plot-cdn2-22kv-feeder">
<rect class="fr" x="1579" y="758" width="203" height="200"/>
<path class="hg" d="M1579 767H1782M1579 895H1782"/>
<path class="hk" d="M1579 791H1782M1579 815H1782M1579 831H1782M1579 858H1782M1579 885H1782M1579 909H1782M1579 942H1782"/>
<path class="vk" d="M1612.9 758V958M1680.6 758V958M1748.3 758V958"/>
<path class="vg" d="M1646.7 758V958M1714.4 758V958"/>
<g transform="translate(1579 791)">
<path d="M0 0H91.4" stroke="#1b9650" stroke-width="1.4"/>
<rect x="0" y="-26" width="30.5" height="52" fill="url(#h24)"/>
<rect x="30.5" y="-34" width="60.9" height="68" fill="url(#h32)"/>
<path d="M91.4 0H203" stroke="#d42a2a" stroke-width="1.6"/>
</g>
<g transform="translate(1579 858)">
<rect x="0" y="-34" width="203" height="68" fill="url(#v32)"/>
</g>
<g transform="translate(1579 925)">
<path d="M0 0H91" stroke="#777" stroke-width="1" stroke-dasharray="2 2" fill="none"/>
<path class="zg" d="M91 0H203"/>
</g>
<path d="M1645 892V958" stroke="#a02020" stroke-width="1.4"/>
<path class="tk" d="M1579 956H1782"/>
<path class="tl" d="M1581 758V958"/>
<rect class="fo" x="1579" y="758" width="203" height="200"/>
<g class="yl">
<text x="1573" y="769.5">1000</text><text x="1573" y="793.5">0</text><text x="1573" y="817.5">-1000</text>
<text x="1573" y="833.5">20</text><text x="1573" y="860.5">0</text><text x="1573" y="887.5">-20</text>
<text x="1573" y="897.5">100</text><text x="1573" y="911.5">50</text><text x="1573" y="927.5">0</text><text x="1573" y="944.5">-50</text><text x="1573" y="960.5">-100</text>
</g>
<g class="xl">
<text x="1612.9" y="972.5">5</text><text x="1646.7" y="972.5">10</text><text x="1680.6" y="972.5">15</text><text x="1714.4" y="972.5">20</text><text x="1748.3" y="972.5">25</text><text x="1782.1" y="972.5">30</text>
<text x="1679" y="980.5">Cycles</text>
</g>
<text class="yt" transform="translate(1558 793) rotate(-90)">I A IB IC</text>
<text class="yt" transform="translate(1558 858) rotate(-90)">VAB(kV) VBC(kV) VCA(kV)</text>
<text class="yt" transform="translate(1558 927) rotate(-90)">IG</text>
<rect class="sw cI" x="1585" y="744" width="16" height="4"/><rect class="sw cB" x="1614" y="744" width="16" height="4"/><rect class="sw cR" x="1643" y="744" width="16" height="4"/><rect class="sw cM" x="1672" y="744" width="16" height="4"/><rect class="sw cO" x="1701" y="744" width="16" height="4"/><rect class="sw cT" x="1730" y="744" width="16" height="4"/><rect class="sw cG" x="1759" y="744" width="16" height="4"/>
<g class="lg"><text x="1593" y="755.5">IA</text><text x="1622" y="755.5">IB</text><text x="1651" y="755.5">IC</text><text x="1680" y="755.5">VAB(kV)</text><text x="1709" y="755.5">VBC(kV)</text><text x="1738" y="755.5">VCA(kV)</text><text x="1767" y="755.5">IG</text></g>
</g>
<g id="note-cnd2-cb-opens">
<rect x="1793" y="773" width="71" height="27" fill="#fff" stroke="#555" stroke-width=".8"/>
<text class="ann" font-size="6.5" x="1803" y="784">CND2 22kV</text>
<text class="ann" font-size="6.5" x="1803" y="791.5">Feeder CB Opens</text>
</g>

<g id="plot-cdn-66kv-bus-distance-reclose">
<rect class="fr" x="1414" y="1011" width="412" height="200"/>
<path class="hg" d="M1414 1019H1826M1414 1040H1826M1414 1103H1826M1414 1162H1826"/>
<path class="hk" d="M1414 1061H1826M1414 1082H1826M1414 1133H1826M1414 1191H1826"/>
<path class="vk" d="M1448.4 1011V1211M1517.1 1011V1211M1585.8 1011V1211M1654.5 1011V1211M1723.2 1011V1211M1791.9 1011V1211"/>
<path class="vg" d="M1482.7 1011V1211M1551.4 1011V1211M1688.8 1011V1211M1757.5 1011V1211"/>
<path class="vb" d="M1620.1 1011V1211M1620 1012H1826"/>
<g transform="translate(1414 1162)">
<rect x="0" y="-46" width="412" height="92" fill="url(#v44)"/>
</g>
<g transform="translate(1414 1061)">
<rect x="0" y="-10" width="61.8" height="20" fill="url(#i8)"/>
<rect x="61.8" y="-37" width="41.2" height="74" fill="url(#i1)"/>
<rect x="103" y="-49" width="151.2" height="98" fill="url(#i2)"/>
<rect x="254.2" y="-10" width="157.8" height="20" fill="url(#i8)"/>
</g>
<path d="M1483 1011V1211" stroke="#8a4040" stroke-width="2"/>
<path d="M1517 1011V1211" stroke="#6a2a2a" stroke-width="1.4"/>
<path class="tk" d="M1414 1209H1826"/>
<path class="tl" d="M1416 1011V1211"/>
<rect class="fo" x="1414" y="1011" width="412" height="200"/>
<g class="yl">
<text x="1409" y="1021.5">500</text><text x="1409" y="1042.5">250</text><text x="1409" y="1063.5">0</text><text x="1409" y="1084.5">-250</text><text x="1409" y="1105.5">-500</text>
<text x="1409" y="1135.5">25</text><text x="1409" y="1164.5">0</text><text x="1409" y="1193.5">-25</text>
</g>
<g class="xl">
<text x="1448.4" y="1226.5">5</text><text x="1482.7" y="1226.5">10</text><text x="1517.1" y="1226.5">15</text><text x="1551.4" y="1226.5">20</text><text x="1585.8" y="1226.5">25</text><text x="1620.1" y="1226.5">30</text>
<text x="1654.5" y="1226.5">35</text><text x="1688.8" y="1226.5">40</text><text x="1723.2" y="1226.5">45</text><text x="1757.5" y="1226.5">50</text><text x="1791.9" y="1226.5">55</text><text x="1826.2" y="1226.5">60</text>
<text x="1516" y="1234.5">Cycles</text><text x="1722" y="1234.5">Cycles</text>
</g>
<text class="yt2" transform="translate(1396 1063) rotate(-90)">IA IB IC</text>
<text class="yt2" transform="translate(1396 1162) rotate(-90)">VA(kV) VB(kV) VC(kV)</text>
<rect class="sw cI" x="1424" y="997" width="16" height="4"/><rect class="sw cB" x="1458" y="997" width="16" height="4"/><rect class="sw cR" x="1492" y="997" width="16" height="4"/><rect class="sw cM" x="1526" y="997" width="16" height="4"/><rect class="sw cO" x="1561" y="997" width="16" height="4"/><rect class="sw cT" x="1595" y="997" width="16" height="4"/>
<g class="lg"><text x="1432" y="1009.5">IA</text><text x="1466" y="1009.5">IB</text><text x="1500" y="1009.5">IC</text><text x="1534" y="1009.5">VA(kV)</text><text x="1569" y="1009.5">VB(kV)</text><text x="1603" y="1009.5">VC(kV)</text></g>
</g>

<g id="plot-cdn-22kv-backup-ef">
<rect class="fr" x="1459" y="1255" width="204" height="202"/>
<path class="hk" d="M1459 1270H1663M1459 1307H1663M1459 1329H1663M1459 1383H1663M1459 1404H1663M1459 1442H1663"/>
<path class="hg" d="M1459 1356H1663M1459 1423H1663"/>
<path class="vk" d="M1493 1255V1457M1561 1255V1457M1629 1255V1457"/>
<path class="vg" d="M1527 1255V1457M1595 1255V1457"/>
<g transform="translate(1459 1356)">
<rect x="0" y="-29" width="204" height="58" fill="url(#v27)"/>
</g>
<g transform="translate(1459 1289)">
<path d="M0 0H204" stroke="#7a3848" stroke-width="2"/>
<rect x="17" y="-33" width="40.8" height="66" fill="url(#g31)"/>
</g>
<g transform="translate(1459 1423)">
<rect x="17" y="-33" width="40.8" height="66" fill="url(#k31)"/>
</g>
<path d="M1479 1255V1457" stroke="#e05050" stroke-width=".8"/>
<path class="tk" d="M1459 1455H1663"/>
<path class="tl" d="M1461 1255V1457"/>
<rect class="fo" x="1459" y="1255" width="204" height="202"/>
<g class="yl">
<text x="1453" y="1272.5">1000</text><text x="1453" y="1291.5">-0</text><text x="1453" y="1309.5">-1000</text>
<text x="1453" y="1331.5">20</text><text x="1453" y="1358.5">0</text><text x="1453" y="1385.5">-20</text>
<text x="1453" y="1406.5">1000</text><text x="1453" y="1425.5">0</text><text x="1453" y="1444.5">-1000</text>
</g>
<g class="xl">
<text x="1493" y="1471.5">5</text><text x="1527" y="1471.5">10</text><text x="1561" y="1471.5">15</text><text x="1595" y="1471.5">20</text><text x="1629" y="1471.5">25</text><text x="1663" y="1471.5">30</text>
<text x="1559" y="1479.5">Cycles</text>
</g>
<text class="yt" transform="translate(1439 1290) rotate(-90)">-IA IB IC</text>
<text class="yt" transform="translate(1439 1356) rotate(-90)">VAB(kV) VBC(kV) VCA(kV)</text>
<text class="yt" transform="translate(1439 1424) rotate(-90)">IG</text>
<rect class="sw cI" x="1465" y="1241" width="16" height="4"/><rect class="sw cB" x="1494" y="1241" width="16" height="4"/><rect class="sw cR" x="1523" y="1241" width="16" height="4"/><rect class="sw cM" x="1552" y="1241" width="16" height="4"/><rect class="sw cO" x="1581" y="1241" width="16" height="4"/><rect class="sw cT" x="1610" y="1241" width="16" height="4"/><rect class="sw cG" x="1639" y="1241" width="16" height="4"/>
<g class="lg"><text x="1473" y="1253.5">IA</text><text x="1502" y="1253.5">IB</text><text x="1531" y="1253.5">IC</text><text x="1560" y="1253.5">VAB(kV)</text><text x="1589" y="1253.5">VBC(kV)</text><text x="1618" y="1253.5">VCA(kV)</text><text x="1647" y="1253.5">IG</text></g>
</g>

<g id="note-energised-from-cdn">
<rect x="1328" y="42" width="67" height="35" fill="#fff" stroke="#555" stroke-width=".8"/>
<text class="ann" font-size="7.5" x="1335" y="51.5">66kV Line</text>
<text class="ann" font-size="7.5" x="1335" y="60">Energised from</text>
<text class="ann" font-size="7.5" x="1335" y="68.5">CDN</text>
</g>
<g id="note-energised-by-cdn2">
<rect x="777" y="255" width="85" height="47" fill="#fff" stroke="#555" stroke-width=".8"/>
<g class="ann" font-size="8.5" text-anchor="middle">
<text x="819.5" y="270">66kV Line</text>
<text x="819.5" y="280.5">Energised by</text>
<text x="819.5" y="291">CDN2 22kV Feeder.</text>
</g>
</g>
<g id="note-lockout" class="ann" font-size="9.5" text-anchor="middle">
<text x="1517" y="175">At CDN, 66kV</text>
<text x="1517" y="186">Circuit Breakers Open</text>
<text x="1517" y="196">(Lockout)</text>
</g>
<g id="note-short-delay" class="ann" font-size="9" text-anchor="middle">
<text x="1392" y="227">Short time delay until</text>
<text x="1392" y="237">fault re-establishes</text>
</g>
<g id="note-cb-small" class="ann" font-size="6">
<text x="1255" y="263">CDN 66kV CB</text>
<text x="1255" y="271">Closed.</text>
<text x="1227" y="305">CB Close</text>
<text x="1227" y="312">Sequence</text>
<text x="1227" y="319">Initiated.</text>
</g>
<text x="720" y="414" font-size="11.5" fill="#a04a98" text-anchor="middle" textLength="285" lengthAdjust="spacingAndGlyphs">CIRCUIT BREAKER CLOSES AFTER 3.0 SECONDS</text>

<g id="event-lines">
<path class="ev" d="M148 22V1472"/>
<path class="ev" d="M186 22V1528"/>
<path class="ev" d="M219 22V1483"/>
<path class="ev" d="M1217 215V407"/>
<path class="ev" d="M1274 147V253"/>
<path class="ev" d="M1474 267V1500"/>
<path class="ev" d="M1518 200V1457"/>
<path class="ev" d="M1670 713V1499"/>
</g>

<g id="event-labels" class="red">
<text x="148" y="1485" font-size="11">INITIAL</text>
<text x="148" y="1499" font-size="11">FAULT</text>
<text x="148" y="1512" font-size="11">APPROX.</text>
<text x="148" y="1526" font-size="11">1:16 PM</text>
<text x="188" y="1546" font-size="11">TRIP AT</text>
<text x="188" y="1559" font-size="11">CDN Z/S</text>
<text x="223" y="1499" font-size="11">TRIP AT</text>
<text x="223" y="1512" font-size="11">CLC Z/S</text>
<text x="1672" y="707" font-size="16">END OF FAULT</text>
<text x="1473" y="1521" font-size="16">FAULT UPON RECLOSE</text>
<text x="1473" y="1538" font-size="16">OF 66kV CIRCUIT BREAKERS</text>
</g>

<text x="858" y="1484" font-size="31" fill="#1a1a1a" text-anchor="middle" textLength="1033" lengthAdjust="spacingAndGlyphs">CDN to CLC 66kV Line and CDN2 22kV Feeder Operations - 7 Feb 2009</text>
</svg>
